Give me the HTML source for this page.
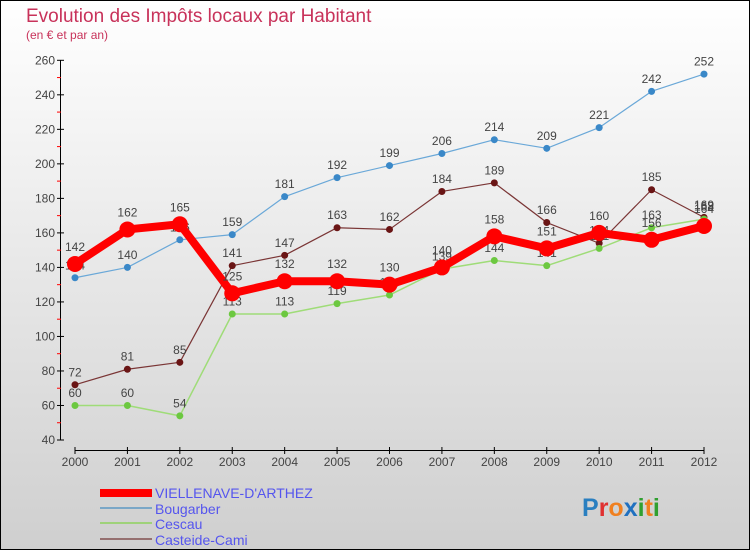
<!DOCTYPE html>
<html><head><meta charset="utf-8"><style>
body{margin:0;width:750px;height:550px;overflow:hidden;font-family:"Liberation Sans",sans-serif}
svg{display:block}
text{font-family:"Liberation Sans",sans-serif}
</style></head><body>
<svg id="chart" width="750" height="550" xmlns="http://www.w3.org/2000/svg">
<defs><linearGradient id="bg" x1="0" y1="0" x2="0" y2="1"><stop offset="0" stop-color="#ffffff"/><stop offset="1" stop-color="#cfcfcf"/></linearGradient></defs>
<rect x="0.5" y="0.5" width="749" height="549" fill="url(#bg)" stroke="#000"/>
<text x="26" y="22" font-size="19" fill="#c8325a">Evolution des Impôts locaux par Habitant</text>
<text x="26" y="39" font-size="12" fill="#c8325a">(en € et par an)</text>
<g id="axes"></g><g id="series"></g>
<g>
<rect x="100" y="489" width="52" height="8" fill="#f00"/>
<text x="155" y="498" font-size="14" fill="#5555ee">VIELLENAVE-D'ARTHEZ</text>
<rect x="100" y="507" width="52" height="2" fill="#7aa7c7"/>
<text x="155" y="514" font-size="14" fill="#5555ee">Bougarber</text>
<rect x="100" y="522" width="52" height="2" fill="#9fd27a"/>
<text x="155" y="529" font-size="14" fill="#5555ee">Cescau</text>
<rect x="100" y="538" width="52" height="2" fill="#957070"/>
<text x="155" y="545" font-size="14" fill="#5555ee">Casteide-Cami</text>
</g>
<text x="582" y="516" font-size="25" font-weight="bold"><tspan fill="#2a7fc0">P</tspan><tspan fill="#e03030">r</tspan><tspan fill="#f08020">o</tspan><tspan fill="#2070c0">x</tspan><tspan fill="#30a030">i</tspan><tspan fill="#f08020">t</tspan><tspan fill="#30a030">i</tspan></text>
</svg>
<script>
const years=[2000,2001,2002,2003,2004,2005,2006,2007,2008,2009,2010,2011,2012];
const yTicks=[40,60,80,100,120,140,160,180,200,220,240,260];
const viellenave=[142,162,165,125,132,132,130,140,158,151,160,156,164];
const bougarber=[134,140,156,159,181,192,199,206,214,209,221,242,252];
const cescau=[60,60,54,113,113,119,124,139,144,141,151,163,168];
const casteide=[72,81,85,141,147,163,162,184,189,166,154,185,169];
const NS="http://www.w3.org/2000/svg";
const x0=75,x1=704,yBase=440,yTop=60.3,vMin=40,vMax=260;
const xs=i=>x0+(x1-x0)*i/(years.length-1);
const ys=v=>yBase-(v-vMin)*(yBase-yTop)/(vMax-vMin);
function mk(tag,attrs,parent){const e=document.createElementNS(NS,tag);for(const k in attrs)e.setAttribute(k,attrs[k]);parent.appendChild(e);return e;}
const ax=document.getElementById('axes');
let yl=mk('line',{x1:60.5,y1:ys(vMax),x2:60.5,y2:yBase,stroke:'#000'},ax);


yTicks.forEach((t,i)=>{
 mk('line',{x1:57,x2:64,y1:ys(t),y2:ys(t),stroke:'#000'},ax);
 if(i<yTicks.length-1){mk('line',{x1:57,x2:61,y1:ys(t+10),y2:ys(t+10),stroke:'#f00'},ax);}
 const tx=mk('text',{x:55,y:ys(t)+4,'font-size':12,fill:'#444','text-anchor':'end'},ax);
 tx.textContent=t;
 
 
});
let xl=mk('line',{x1:x0,x2:x1,y1:450.5,y2:450.5,stroke:'#000'},ax);


years.forEach((y,i)=>{
 mk('line',{x1:xs(i),x2:xs(i),y1:447,y2:454,stroke:'#000'},ax);
 const tx=mk('text',{x:xs(i),y:466,'font-size':12,fill:'#444','text-anchor':'middle'},ax);
 tx.textContent=y;
 
 
});
const sg=document.getElementById('series');
function draw(vals,color,w,r,dot,name){
 const g=mk('g',{},sg);
 
 
 const pl=mk('polyline',{points:vals.map((v,i)=>xs(i)+','+ys(v)).join(' '),fill:'none',stroke:color,'stroke-width':w,'stroke-linejoin':'round'},g);
 
 
 vals.forEach((v,i)=>{
  const c=mk('circle',{cx:xs(i),cy:ys(v),r:r,fill:dot},g);
  
  
  const t=mk('text',{x:xs(i),y:ys(v)-(r+5),'font-size':12,fill:'#444','text-anchor':'middle'},g);
  t.textContent=v;
  
  
 });
}
draw(casteide,'#7a3535',1.2,3.5,'#6a1515','casteide');
draw(cescau,'#9fdc78',1.5,3.5,'#6cc840','cescau');
draw(bougarber,'#6aa8d8',1.2,3.5,'#3a88c8','bougarber');
draw(viellenave,'#f00',8,8,'#f00','viellenave');
</script>
</body></html>
